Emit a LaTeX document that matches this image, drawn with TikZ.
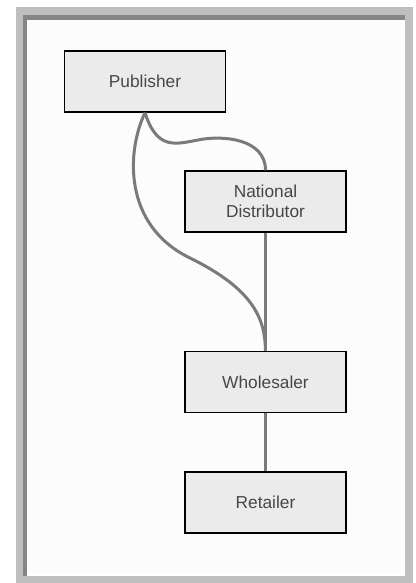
\documentclass[tikz,border=0pt]{standalone}
\usepackage{fontspec}
\setmainfont{Liberation Sans}
\begin{document}
\begin{tikzpicture}[x=1pt,y=-1pt,
every node/.style={font=\fontsize{17.3}{20.5}\selectfont,text=black!72},
stage/.style={draw=black,line width=1.4pt,fill=black!8,minimum width=161pt,minimum height=61pt,align=center,inner sep=0pt},
link/.style={draw=black!52,line width=3pt}]
\useasboundingbox (0,0) rectangle (415,583);
% frame
\fill[black!25] (16,7) rectangle (413,583);
\fill[black!48] (23,15) rectangle (405,576);
\fill[white] (27,20) rectangle (405,576);
\fill[black!1] (27,20) rectangle (403,574);
\node[stage] (pub) at (145,81.5) {Publisher};
\node[stage] (nat) at (265.5,201.5) {National\\Distributor};
\node[stage] (whl) at (265.5,382) {Wholesaler};
\node[stage] (ret) at (265.5,502.5) {Retailer};
\draw[link] (pub.south) .. controls +(12,38) and +(-22,4) .. (198,140) .. controls +(24,-5) and +(0,-32) .. (nat.north);
\draw[link] (pub.south) .. controls (127,150) and (122,225) .. (190,258) .. controls (255,290) and (265,320) .. (whl.north);
\draw[link] (nat.south)--(whl.north);
\draw[link] (whl.south)--(ret.north);
\end{tikzpicture}
\end{document}
